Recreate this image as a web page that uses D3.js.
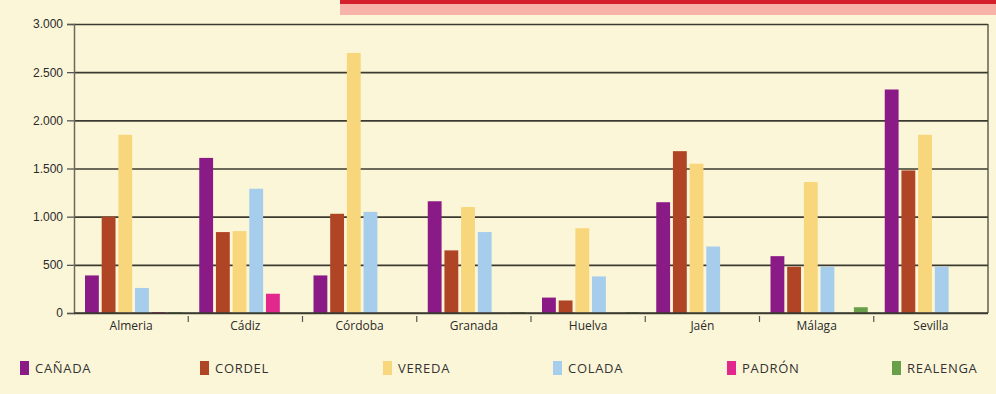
<!DOCTYPE html>
<html>
<head>
<meta charset="utf-8">
<script src="https://cdn.jsdelivr.net/npm/d3@7"></script>
<style>
  body { margin: 0; background: #fcf6d8; }
  svg { display: block; font-family: 'Open Sans', sans-serif; }
  .grid line { stroke: #3a3a30; stroke-width: 1.6; }
  .grid .domain { display: none; }
  .yaxis text, .xaxis text { fill: #2a2a2a; font-size: 12px; }
  .legend text { fill: #333; font-size: 13px; letter-spacing: 0.7px; }
</style>
</head>
<body>
<div id="chart"></div>
<script>
const PROVINCES = ['Almeria', 'Cádiz', 'Córdoba', 'Granada', 'Huelva', 'Jaén', 'Málaga', 'Sevilla']
const TYPES = ['CAÑADA', 'CORDEL', 'VEREDA', 'COLADA', 'PADRÓN', 'REALENGA']
const COLORS = ['#8a1a86', '#b04526', '#f8d77c', '#a6cdec', '#e2288c', '#6a9f4a']

const canada   = [390, 1610, 390, 1160, 160, 1150, 590, 2320]
const cordel   = [1000, 840, 1030, 650, 130, 1680, 480, 1480]
const vereda   = [1850, 850, 2700, 1100, 880, 1550, 1360, 1850]
const colada   = [260, 1290, 1050, 840, 380, 690, 480, 480]
const padron   = [10, 200, 0, 0, 0, 0, 0, 0]
const realenga = [10, 0, 0, 10, 10, 0, 60, 0]
const SERIES = [canada, cordel, vereda, colada, padron, realenga]

const Y_TICKS = [0, 500, 1000, 1500, 2000, 2500, 3000]

const W = 996, H = 394
const m = {top: 24, right: 8, bottom: 81, left: 74}
const w = W - m.left - m.right
const h = H - m.top - m.bottom

const svg = d3.select('#chart').append('svg')
  .attr('width', W).attr('height', H)

// top page strip
svg.append('rect').attr('x', 340).attr('y', 0).attr('width', W - 340).attr('height', 4).attr('fill', '#d4202a')
svg.append('rect').attr('x', 340).attr('y', 4).attr('width', W - 340).attr('height', 11).attr('fill', '#f7b3a8')

const g = svg.append('g').attr('transform', 'translate(' + m.left + ',' + m.top + ')')

const x0 = d3.scaleBand().domain(PROVINCES).range([0, w])
const x1 = d3.scaleBand().domain(TYPES).range([11, x0.bandwidth() - 6]).paddingInner(0.17)
const y = d3.scaleLinear().domain([0, 3000]).range([h, 0])

const fmt = d => d3.format(',')(d).replace(',', '.')

// gridlines
g.append('g').attr('class', 'grid')
  .call(d3.axisLeft(y).tickValues(Y_TICKS).tickSize(-w).tickFormat(''))

// right border
g.append('line').attr('x1', w).attr('x2', w).attr('y1', 0).attr('y2', h)
  .attr('stroke', '#4a4a40').attr('stroke-width', 1.3)

// bars
const groups = g.selectAll('.prov').data(PROVINCES).enter().append('g')
  .attr('transform', d => 'translate(' + x0(d) + ',0)')
groups.selectAll('rect')
  .data((p, i) => TYPES.map((t, k) => ({t: t, v: SERIES[k][i], c: COLORS[k]})))
  .enter().append('rect')
  .attr('x', d => x1(d.t))
  .attr('width', x1.bandwidth())
  .attr('y', d => y(d.v))
  .attr('height', d => h - y(d.v))
  .attr('fill', d => d.c)

// y axis
const yAxis = g.append('g').attr('class', 'yaxis')
  .call(d3.axisLeft(y).tickValues(Y_TICKS).tickSize(7).tickPadding(4).tickFormat(fmt))
yAxis.select('.domain').attr('stroke', '#6a6a5a').attr('stroke-width', 1.5)
yAxis.selectAll('line').attr('stroke', '#555').attr('stroke-width', 1.3)

// x axis: labels under band centres, ticks between bands
g.append('line').attr('x1', 0).attr('x2', w).attr('y1', h).attr('y2', h)
  .attr('stroke', '#3a3a30').attr('stroke-width', 1.6)
const xb = g.append('g').attr('class', 'xaxis').attr('transform', 'translate(0,' + h + ')')
xb.selectAll('line').data(PROVINCES.slice(1)).enter().append('line')
  .attr('x1', d => x0(d)).attr('x2', d => x0(d)).attr('y1', 3).attr('y2', 9)
  .attr('stroke', '#555').attr('stroke-width', 1.2)
xb.selectAll('text').data(PROVINCES).enter().append('text')
  .attr('x', d => x0(d) + x0.bandwidth() / 2).attr('y', 17)
  .attr('text-anchor', 'middle').text(d => d)

// legend
const LEG_X = [20, 200, 383, 553, 727, 892]
const leg = svg.append('g').attr('class', 'legend')
const item = leg.selectAll('g').data(TYPES).enter().append('g')
  .attr('transform', (d, i) => 'translate(' + LEG_X[i] + ',361)')
item.append('rect').attr('width', 9).attr('height', 14).attr('fill', (d, i) => COLORS[i])
item.append('text').attr('x', 15).attr('y', 12).text(d => d)
</script>
</body>
</html>
